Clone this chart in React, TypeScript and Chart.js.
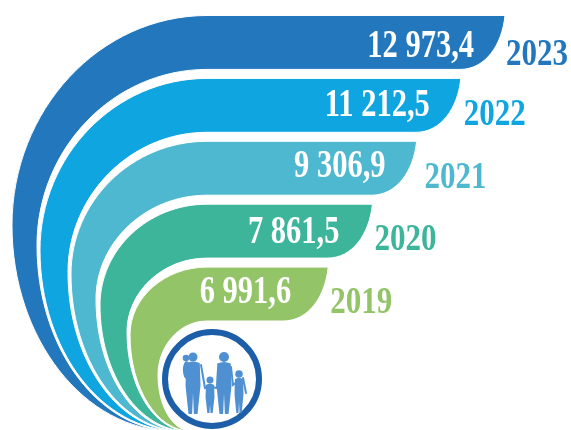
import React, { useEffect, useRef } from "react";
import { Chart, registerables, LinearScale } from "chart.js";

// ---- data (top band first) ----
const years = ["2023", "2022", "2021", "2020", "2019"];
const values = [12973.4, 11212.5, 9306.9, 7861.5, 6991.6];
const bandColors = ["#2277bd", "#0fa5e0", "#4db8cf", "#3db59a", "#93c467"];

// ---- band curve shape, as offsets from each bar ----
const outerLeftFromBase = [272, 244, 213, 184, 154];
const innerLeftFromBase = [247, 216, 188, 157, 126];
const outerBendFromCenter = [183, 145, 106, 74, 41];
const innerBendFromCenter = [203, 167, 131, 101, 81];
const tipFromBase = [111, 106, 102, 97, 94];

// ---- small nudges of the hand-placed labels ----
const valueNudgeX = [0, 0, 0, -2, -6];
const valueNudgeY = [3, -1, -3, 0, -3];
const yearNudgeX = [-1, 1, 6, 0, 0];
const yearNudgeY = [1.5, -1.5, -1.5, -2.5, -2.5];

// The printed figures set the order of the band ends; the ends are evenly stepped.
const ranked = [...values].sort((a, b) => a - b);
class RankScale extends LinearScale {
  static id = "rank";
  static defaults = {};
  getPixelForValue(v: number) {
    return this.getPixelForDecimal((ranked.indexOf(v) + 1) / ranked.length);
  }
}
Chart.register(...registerables, RankScale);

const formatValue = (v: number) => {
  const [i, d] = v.toFixed(1).split(".");
  return i.replace(/\B(?=(\d{3})+$)/g, " ") + "," + d;
};

function stretchedText(
  ctx: CanvasRenderingContext2D,
  text: string,
  x: number,
  y: number,
  size: number,
  sy: number,
  color: string,
  align: CanvasTextAlign
) {
  ctx.save();
  ctx.translate(x, y);
  ctx.scale(1, sy);
  ctx.font = `bold ${size}px "Liberation Serif"`;
  ctx.fillStyle = color;
  ctx.textAlign = align;
  ctx.textBaseline = "alphabetic";
  ctx.fillText(text, 0, 0);
  ctx.restore();
}

function person(ctx: CanvasRenderingContext2D, cx: number, head: number, r: number, w: number, feet: number) {
  ctx.beginPath();
  ctx.arc(cx, head, r, 0, Math.PI * 2);
  ctx.fill();
  const top = head + r + 0.5;
  const hip = top + (feet - top) * 0.45;
  ctx.beginPath();
  ctx.moveTo(cx - w * 0.45, top + 1);
  ctx.quadraticCurveTo(cx, top - 2, cx + w * 0.45, top + 1);
  ctx.lineTo(cx + w * 0.5, hip);
  ctx.lineTo(cx + w * 0.3, feet);
  ctx.lineTo(cx + w * 0.06, feet);
  ctx.lineTo(cx, hip + 8);
  ctx.lineTo(cx - w * 0.06, feet);
  ctx.lineTo(cx - w * 0.3, feet);
  ctx.lineTo(cx - w * 0.5, hip);
  ctx.closePath();
  ctx.fill();
}

function family(ctx: CanvasRenderingContext2D, cx: number, cy: number, r: number) {
  ctx.save();
  ctx.beginPath();
  ctx.arc(cx, cy, r, 0, Math.PI * 2);
  ctx.fillStyle = "#ffffff";
  ctx.fill();
  ctx.lineWidth = 6;
  ctx.strokeStyle = "#1c5fa8";
  ctx.beginPath();
  ctx.arc(cx, cy, r - 3, 0, Math.PI * 2);
  ctx.stroke();

  ctx.fillStyle = "#4f90d2";
  ctx.strokeStyle = "#4f90d2";
  ctx.lineCap = "round";
  person(ctx, cx - 19, cy - 22, 4.5, 15, cy + 35);
  person(ctx, cx + 12, cy - 22, 5, 15, cy + 35);
  person(ctx, cx - 2, cy + 1, 3.5, 9, cy + 34);
  person(ctx, cx + 27, cy - 5, 3.8, 9, cy + 34);
  // child on the father's arm
  ctx.beginPath();
  ctx.arc(cx - 26, cy - 21, 3.3, 0, Math.PI * 2);
  ctx.fill();
  ctx.beginPath();
  ctx.ellipse(cx - 25.5, cy - 9, 3.6, 9, 0, 0, Math.PI * 2);
  ctx.fill();
  // joined hands
  ctx.lineWidth = 2;
  ctx.beginPath();
  ctx.moveTo(cx - 11, cy - 14);
  ctx.lineTo(cx - 7, cy + 9);
  ctx.lineTo(cx - 3, cy + 8);
  ctx.moveTo(cx - 1, cy + 8);
  ctx.lineTo(cx + 5, cy + 9);
  ctx.lineTo(cx + 6, cy - 10);
  ctx.moveTo(cx + 19, cy - 12);
  ctx.lineTo(cx + 21, cy + 6);
  ctx.lineTo(cx + 25, cy + 3);
  ctx.moveTo(cx + 31, cy - 1);
  ctx.lineTo(cx + 34, cy + 14);
  ctx.stroke();
  ctx.restore();
}

const bandPlugin = {
  id: "bands",
  beforeDatasetDraw(chart: any) {
    const ctx: CanvasRenderingContext2D = chart.ctx;
    const bars = chart.getDatasetMeta(0).data;
    const K = 0.55;
    const bottomY = 431;

    bars.forEach((bar: any, i: number) => {
      const top = bar.y - bar.height / 2;
      const bot = bar.y + bar.height / 2;
      const xEnd = bar.x;
      const base = bar.base;
      const oL = base - outerLeftFromBase[i];
      const iL = base - innerLeftFromBase[i];
      const oM = bar.y + outerBendFromCenter[i];
      const iM = bar.y + innerBendFromCenter[i];
      const tip = base - tipFromBase[i];
      const flat = base - 77;

      ctx.beginPath();
      ctx.moveTo(xEnd, top);
      ctx.lineTo(flat, top);
      ctx.bezierCurveTo(flat - K * (flat - oL), top, oL, oM - K * (oM - top), oL, oM);
      ctx.bezierCurveTo(oL, oM + K * (bottomY - oM), tip - K * (tip - oL), bottomY, tip, bottomY);
      ctx.bezierCurveTo(tip - K * (tip - iL), bottomY - 1, iL, iM + K * (bottomY - iM), iL, iM);
      ctx.bezierCurveTo(iL, iM - K * (iM - bot), flat - K * (flat - iL), bot, flat, bot);
      ctx.lineTo(xEnd - 45, bot);
      ctx.bezierCurveTo(xEnd - 20, bot, xEnd - 3, top + 30, xEnd, top);
      ctx.closePath();
      ctx.fillStyle = bar.options.backgroundColor;
      ctx.fill();
      ctx.lineWidth = 1;
      ctx.strokeStyle = "#ffffff";
      ctx.stroke();
    });

    family(ctx, 212, 379, 50);

    bars.forEach((bar: any, i: number) => {
      const top = bar.y - bar.height / 2;
      const bot = bar.y + bar.height / 2;
      stretchedText(
        ctx,
        formatValue(values[i]),
        bar.x - 31 + valueNudgeX[i],
        top + 39 + valueNudgeY[i],
        30.5,
        1.3,
        "#ffffff",
        "right"
      );
      stretchedText(
        ctx,
        years[i],
        bar.x + 2 + yearNudgeX[i],
        bot - 6 + yearNudgeY[i],
        31,
        1.22,
        bar.options.backgroundColor,
        "left"
      );
    });
    return false;
  },
};

export default function App() {
  const ref = useRef<HTMLCanvasElement>(null);
  useEffect(() => {
    const chart = new Chart(ref.current!, {
      type: "bar",
      data: {
        labels: years,
        datasets: [
          {
            data: values,
            backgroundColor: bandColors,
            barPercentage: 0.857,
            categoryPercentage: 1,
          },
        ],
      },
      options: {
        indexAxis: "y",
        animation: false,
        responsive: false,
        layout: { padding: { left: 284, right: 66, top: 11, bottom: 104.5 } },
        plugins: { legend: { display: false }, tooltip: { enabled: false } },
        scales: {
          x: { type: "rank", display: false, min: 0 },
          y: { type: "category", display: false },
        },
      },
      plugins: [bandPlugin],
    } as any);
    return () => chart.destroy();
  }, []);
  return (
    <div style={{ position: "absolute", left: 0, top: 0, width: 571, height: 430, background: "#fff" }}>
      <canvas ref={ref} width={571} height={430} style={{ display: "block" }} />
    </div>
  );
}
